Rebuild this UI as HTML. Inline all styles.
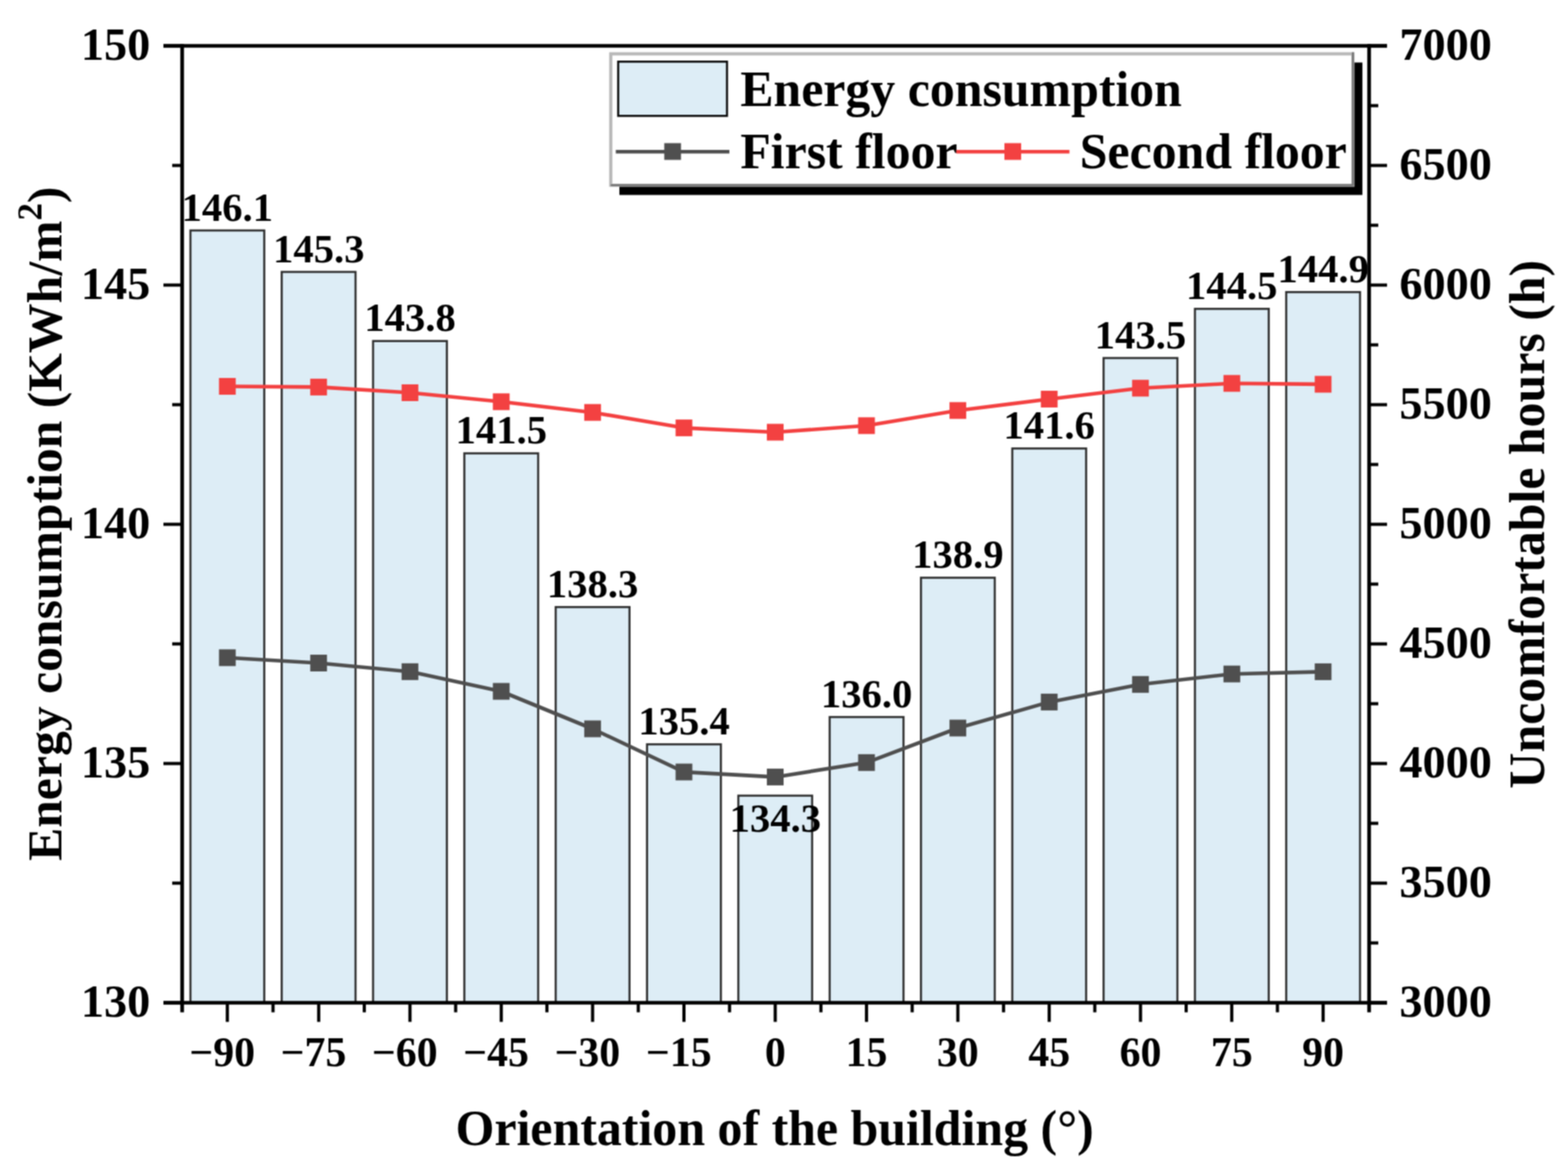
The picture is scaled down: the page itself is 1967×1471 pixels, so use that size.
<!DOCTYPE html>
<html><head><meta charset="utf-8"><title>Energy consumption chart</title>
<style>html,body{margin:0;padding:0;background:#fff;overflow:hidden}svg{display:block}text{font-family:"Liberation Serif",serif;font-weight:bold;fill:#000}</style></head><body>
<svg width="1967" height="1471" viewBox="0 0 1967 1471">
<defs><filter id="soft" x="0" y="0" width="1967" height="1471" filterUnits="userSpaceOnUse" color-interpolation-filters="sRGB"><feConvolveMatrix order="3" kernelMatrix="1 2 1 2 4 2 1 2 1" divisor="16" edgeMode="duplicate"/></filter></defs>
<g filter="url(#soft)">
<rect width="1967" height="1471" fill="#fff"/>
<g fill="#ddedf6" stroke="#2e2e2e" stroke-width="2.6">
<rect x="238.9" y="289.0" width="92.6" height="968.5"/>
<rect x="353.4" y="341.0" width="92.6" height="916.5"/>
<rect x="468.0" y="427.7" width="92.6" height="829.8"/>
<rect x="582.5" y="568.5" width="92.6" height="689.0"/>
<rect x="697.1" y="761.3" width="92.6" height="496.2"/>
<rect x="811.7" y="933.4" width="92.6" height="324.1"/>
<rect x="926.2" y="997.8" width="92.6" height="259.7"/>
<rect x="1040.8" y="899.2" width="92.6" height="358.3"/>
<rect x="1155.3" y="724.5" width="92.6" height="533.0"/>
<rect x="1269.9" y="562.4" width="92.6" height="695.1"/>
<rect x="1384.4" y="449.0" width="92.6" height="808.5"/>
<rect x="1499.0" y="387.3" width="92.6" height="870.2"/>
<rect x="1613.5" y="366.3" width="92.6" height="891.2"/>
</g>
<g font-size="51" text-anchor="middle">
<text x="285.2" y="276.7">146.1</text>
<text x="399.8" y="328.7">145.3</text>
<text x="514.3" y="415.4">143.8</text>
<text x="628.8" y="556.2">141.5</text>
<text x="743.4" y="749.0">138.3</text>
<text x="858.0" y="921.1">135.4</text>
<text x="972.5" y="1043.0">134.3</text>
<text x="1087.0" y="886.9">136.0</text>
<text x="1201.6" y="712.2">138.9</text>
<text x="1316.2" y="550.1">141.6</text>
<text x="1430.7" y="436.7">143.5</text>
<text x="1545.2" y="375.0">144.5</text>
<text x="1659.8" y="354.0">144.9</text>
</g>
<polyline points="285.2,824.8 399.8,831.5 514.3,842.3 628.8,867.0 743.4,914.0 858.0,968.1 972.5,974.4 1087.0,956.3 1201.6,913.0 1316.2,880.4 1430.7,858.3 1545.2,845.2 1659.8,842.4" fill="none" stroke="#4f4f4f" stroke-width="4.6" stroke-linejoin="round"/>
<g fill="#4f4f4f"><rect x="274.7" y="814.3" width="21" height="21"/><rect x="389.2" y="821.0" width="21" height="21"/><rect x="503.8" y="831.8" width="21" height="21"/><rect x="618.3" y="856.5" width="21" height="21"/><rect x="732.9" y="903.5" width="21" height="21"/><rect x="847.5" y="957.6" width="21" height="21"/><rect x="962.0" y="963.9" width="21" height="21"/><rect x="1076.5" y="945.8" width="21" height="21"/><rect x="1191.1" y="902.5" width="21" height="21"/><rect x="1305.7" y="869.9" width="21" height="21"/><rect x="1420.2" y="847.8" width="21" height="21"/><rect x="1534.8" y="834.7" width="21" height="21"/><rect x="1649.3" y="831.9" width="21" height="21"/></g>
<polyline points="285.2,484.5 399.8,485.4 514.3,492.5 628.8,503.8 743.4,517.2 858.0,536.6 972.5,542.0 1087.0,533.8 1201.6,514.8 1316.2,500.5 1430.7,486.8 1545.2,480.8 1659.8,481.9" fill="none" stroke="#f34141" stroke-width="4.6" stroke-linejoin="round"/>
<g fill="#f34141"><rect x="274.7" y="474.0" width="21" height="21"/><rect x="389.2" y="474.9" width="21" height="21"/><rect x="503.8" y="482.0" width="21" height="21"/><rect x="618.3" y="493.3" width="21" height="21"/><rect x="732.9" y="506.7" width="21" height="21"/><rect x="847.5" y="526.1" width="21" height="21"/><rect x="962.0" y="531.5" width="21" height="21"/><rect x="1076.5" y="523.3" width="21" height="21"/><rect x="1191.1" y="504.3" width="21" height="21"/><rect x="1305.7" y="490.0" width="21" height="21"/><rect x="1420.2" y="476.3" width="21" height="21"/><rect x="1534.8" y="470.3" width="21" height="21"/><rect x="1649.3" y="471.4" width="21" height="21"/></g>
<g stroke="#000" stroke-width="4.6" fill="none">
<line x1="205" y1="57.5" x2="1740" y2="57.5"/>
<line x1="205" y1="1257.5" x2="1740" y2="1257.5"/>
<line x1="228.5" y1="55.2" x2="228.5" y2="1269.5"/>
<line x1="1717.5" y1="55.2" x2="1717.5" y2="1269.5"/>
</g>
<g stroke="#000" stroke-width="4">
<line x1="205" y1="57.5" x2="228.5" y2="57.5"/>
<line x1="205" y1="357.5" x2="228.5" y2="357.5"/>
<line x1="205" y1="657.5" x2="228.5" y2="657.5"/>
<line x1="205" y1="957.5" x2="228.5" y2="957.5"/>
<line x1="205" y1="1257.5" x2="228.5" y2="1257.5"/>
<line x1="216" y1="207.5" x2="228.5" y2="207.5"/>
<line x1="216" y1="507.5" x2="228.5" y2="507.5"/>
<line x1="216" y1="807.5" x2="228.5" y2="807.5"/>
<line x1="216" y1="1107.5" x2="228.5" y2="1107.5"/>
<line x1="1717.5" y1="57.5" x2="1740" y2="57.5"/>
<line x1="1717.5" y1="207.5" x2="1740" y2="207.5"/>
<line x1="1717.5" y1="357.5" x2="1740" y2="357.5"/>
<line x1="1717.5" y1="507.5" x2="1740" y2="507.5"/>
<line x1="1717.5" y1="657.5" x2="1740" y2="657.5"/>
<line x1="1717.5" y1="807.5" x2="1740" y2="807.5"/>
<line x1="1717.5" y1="957.5" x2="1740" y2="957.5"/>
<line x1="1717.5" y1="1107.5" x2="1740" y2="1107.5"/>
<line x1="1717.5" y1="1257.5" x2="1740" y2="1257.5"/>
<line x1="1717.5" y1="132.5" x2="1729" y2="132.5"/>
<line x1="1717.5" y1="282.5" x2="1729" y2="282.5"/>
<line x1="1717.5" y1="432.5" x2="1729" y2="432.5"/>
<line x1="1717.5" y1="582.5" x2="1729" y2="582.5"/>
<line x1="1717.5" y1="732.5" x2="1729" y2="732.5"/>
<line x1="1717.5" y1="882.5" x2="1729" y2="882.5"/>
<line x1="1717.5" y1="1032.5" x2="1729" y2="1032.5"/>
<line x1="1717.5" y1="1182.5" x2="1729" y2="1182.5"/>
<line x1="285.2" y1="1257.5" x2="285.2" y2="1281.5"/>
<line x1="399.8" y1="1257.5" x2="399.8" y2="1281.5"/>
<line x1="514.3" y1="1257.5" x2="514.3" y2="1281.5"/>
<line x1="628.8" y1="1257.5" x2="628.8" y2="1281.5"/>
<line x1="743.4" y1="1257.5" x2="743.4" y2="1281.5"/>
<line x1="858.0" y1="1257.5" x2="858.0" y2="1281.5"/>
<line x1="972.5" y1="1257.5" x2="972.5" y2="1281.5"/>
<line x1="1087.0" y1="1257.5" x2="1087.0" y2="1281.5"/>
<line x1="1201.6" y1="1257.5" x2="1201.6" y2="1281.5"/>
<line x1="1316.2" y1="1257.5" x2="1316.2" y2="1281.5"/>
<line x1="1430.7" y1="1257.5" x2="1430.7" y2="1281.5"/>
<line x1="1545.2" y1="1257.5" x2="1545.2" y2="1281.5"/>
<line x1="1659.8" y1="1257.5" x2="1659.8" y2="1281.5"/>
<line x1="342.5" y1="1257.5" x2="342.5" y2="1269.5"/>
<line x1="457.0" y1="1257.5" x2="457.0" y2="1269.5"/>
<line x1="571.6" y1="1257.5" x2="571.6" y2="1269.5"/>
<line x1="686.1" y1="1257.5" x2="686.1" y2="1269.5"/>
<line x1="800.7" y1="1257.5" x2="800.7" y2="1269.5"/>
<line x1="915.2" y1="1257.5" x2="915.2" y2="1269.5"/>
<line x1="1029.8" y1="1257.5" x2="1029.8" y2="1269.5"/>
<line x1="1144.3" y1="1257.5" x2="1144.3" y2="1269.5"/>
<line x1="1258.9" y1="1257.5" x2="1258.9" y2="1269.5"/>
<line x1="1373.4" y1="1257.5" x2="1373.4" y2="1269.5"/>
<line x1="1488.0" y1="1257.5" x2="1488.0" y2="1269.5"/>
<line x1="1602.5" y1="1257.5" x2="1602.5" y2="1269.5"/>
</g>
<g font-size="58" text-anchor="end">
<text x="188.5" y="75.3">150</text>
<text x="188.5" y="375.3">145</text>
<text x="188.5" y="675.3">140</text>
<text x="188.5" y="975.3">135</text>
<text x="188.5" y="1275.3">130</text>
</g>
<g font-size="58">
<text x="1755.5" y="75.3">7000</text>
<text x="1755.5" y="225.3">6500</text>
<text x="1755.5" y="375.3">6000</text>
<text x="1755.5" y="525.3">5500</text>
<text x="1755.5" y="675.3">5000</text>
<text x="1755.5" y="825.3">4500</text>
<text x="1755.5" y="975.3">4000</text>
<text x="1755.5" y="1125.3">3500</text>
<text x="1755.5" y="1275.3">3000</text>
</g>
<g font-size="52.5" text-anchor="middle">
<text x="278.7" y="1336.5">−90</text>
<text x="393.2" y="1336.5">−75</text>
<text x="507.8" y="1336.5">−60</text>
<text x="622.3" y="1336.5">−45</text>
<text x="736.9" y="1336.5">−30</text>
<text x="851.5" y="1336.5">−15</text>
<text x="972.5" y="1336.5">0</text>
<text x="1087.0" y="1336.5">15</text>
<text x="1201.6" y="1336.5">30</text>
<text x="1316.2" y="1336.5">45</text>
<text x="1430.7" y="1336.5">60</text>
<text x="1545.2" y="1336.5">75</text>
<text x="1659.8" y="1336.5">90</text>
</g>
<text font-size="62.6" x="571.5" y="1435.5">Orientation of the building (°)</text>
<text font-size="62.3" transform="translate(76.8,1079.6) rotate(-90)">Energy consumption (KWh/m<tspan font-size="44" dx="0.1" dy="-25">2</tspan><tspan dx="-0.2" dy="25">)</tspan></text>
<text font-size="62.5" transform="translate(1937,989) rotate(-90)">Uncomfortable hours (h)</text>
<rect x="777" y="78.4" width="932.1" height="166.1" fill="#000"/>
<rect x="766.2" y="67.5" width="931" height="164.8" fill="#fff" stroke="#b8b8b8" stroke-width="4"/>
<path d="M1697.2 65.5V232.3H766.2" fill="none" stroke="#747474" stroke-width="2.6"/>
<rect x="775.5" y="77.3" width="136.5" height="68" fill="#ddedf6" stroke="#0a0a0a" stroke-width="2.6"/>
<text font-size="62.5" x="928.7" y="132.5">Energy consumption</text>
<line x1="772.5" y1="190.2" x2="915" y2="190.2" stroke="#4f4f4f" stroke-width="4.6"/><rect x="833.3" y="179.5" width="21" height="21" fill="#4f4f4f"/>
<text font-size="62.5" x="928.7" y="210.7">First floor</text>
<line x1="1199.6" y1="190.2" x2="1341.6" y2="190.2" stroke="#f34141" stroke-width="4.6"/><rect x="1260" y="179.5" width="21" height="21" fill="#f34141"/>
<text font-size="62.5" x="1354.5" y="210.7">Second floor</text>
</g>
</svg>
</body></html>
